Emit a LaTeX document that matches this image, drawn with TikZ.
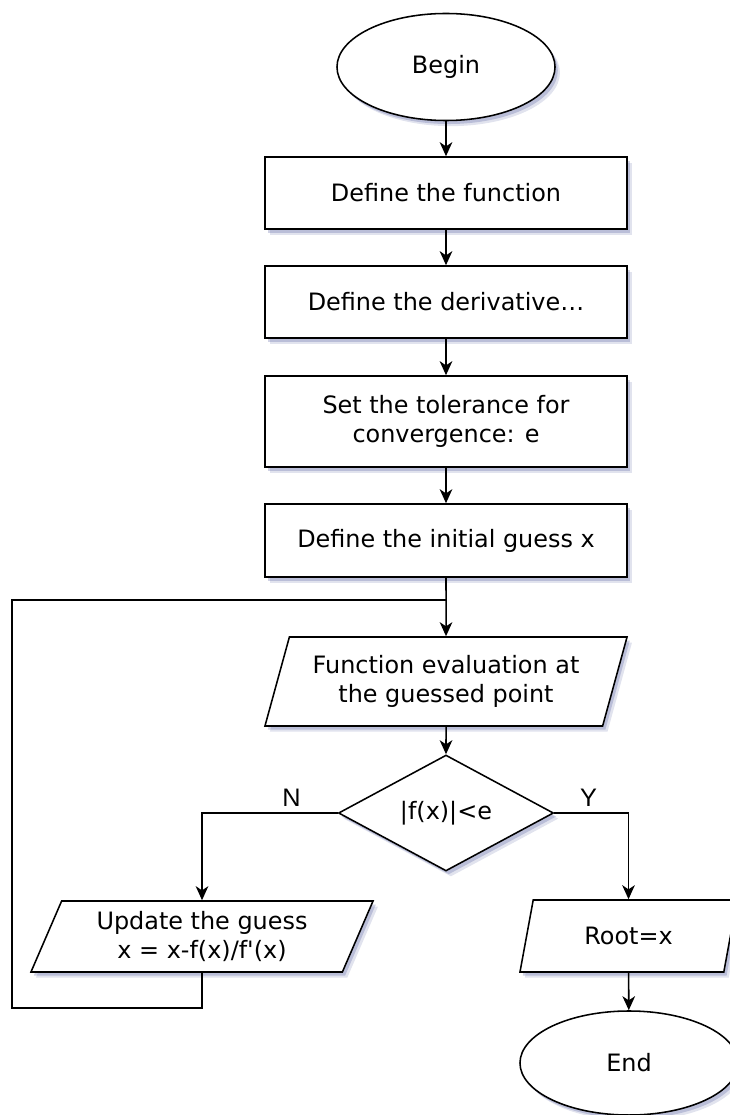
\documentclass[tikz,border=0pt]{standalone}
\usepackage{fontspec}
\setmainfont{DejaVu Sans}
\newfontfamily\labfont{Liberation Sans}
\usetikzlibrary{shapes.geometric,shadows,arrows.meta}
\definecolor{shadowblue}{RGB}{70,80,150}

\begin{document}
\begin{tikzpicture}[x=0.025cm,y=-0.025cm,>={Stealth[length=10pt,width=9pt,inset=3pt]},
  line width=1.1pt,font=\fontsize{17}{21}\selectfont,
  softshadow/.style={drop shadow={shadow xshift=2pt,shadow yshift=-2.5pt,fill=shadowblue,opacity=0.25},
    drop shadow={shadow xshift=3.5pt,shadow yshift=-4pt,fill=shadowblue,opacity=0.16}},
  terminal/.style={ellipse,draw,fill=white,softshadow,minimum width=5.45cm,minimum height=2.675cm},
  stepbox/.style={rectangle,draw,fill=white,softshadow,minimum width=9.05cm,align=center},
  io/.style={trapezium,trapezium stretches body,draw,fill=white,softshadow,align=center},
  decision/.style={diamond,draw,fill=white,softshadow,minimum width=5.375cm,minimum height=2.675cm,inner sep=0pt},
  yn/.style={font=\labfont\fontsize{18}{20}\selectfont,inner sep=4pt}]
  \useasboundingbox (0,0) rectangle (729,1115);

  % main column
  \node[terminal] (begin) at (446,67) {Begin};
  \node[stepbox,minimum height=1.8cm] (func) at (446,193) {Define the function};
  \node[stepbox,minimum height=1.8cm] (deriv) at (446,302) {Define the derivative…};
  \node[stepbox,minimum height=2.275cm] (tol) at (446,421.5) {Set the tolerance for\\convergence: e};
  \node[stepbox,minimum height=1.825cm] (guess) at (446,540.5) {Define the initial guess x};
  \node[io,trapezium left angle=68.5,trapezium right angle=111.5,minimum width=9.05cm,minimum height=2.225cm]
    (eval) at (446,681.5) {Function evaluation at\\the guessed point};
  \node[decision] (check) at (446,813) {|f(x)|<e};

  % branches
  \node[io,trapezium left angle=63,trapezium right angle=117,minimum width=8.55cm,minimum height=1.775cm]
    (update) at (202,936.5) {Update the guess\\x = x-f(x)/f\textquotesingle(x)};
  \node[io,trapezium left angle=64,trapezium right angle=116,minimum width=5.425cm,minimum height=1.8cm]
    (root) at (628.5,936) {Root=x};
  \node[terminal,minimum height=2.6cm] (finish) at (629,1063) {End};

  \draw[->] (begin) -- (func);
  \draw[->] (func) -- (deriv);
  \draw[->] (deriv) -- (tol);
  \draw[->] (tol) -- (guess);
  \draw[->] (guess) -- (eval);
  \draw[->] (eval) -- (check);
  \draw[->] (check.west) -| node[yn,above,pos=0.17] (no) {N} (update.north);
  \draw[->] (check.east) -| node[yn,above,pos=0.23] (yes) {Y} (root.north);
  \draw[->] (root) -- (finish);

  % loop back
  \coordinate (loopbot) at (12,1008);
  \coordinate (join) at (446,600);
  \draw (update.south) |- (loopbot) |- (join);
\end{tikzpicture}
\end{document}
